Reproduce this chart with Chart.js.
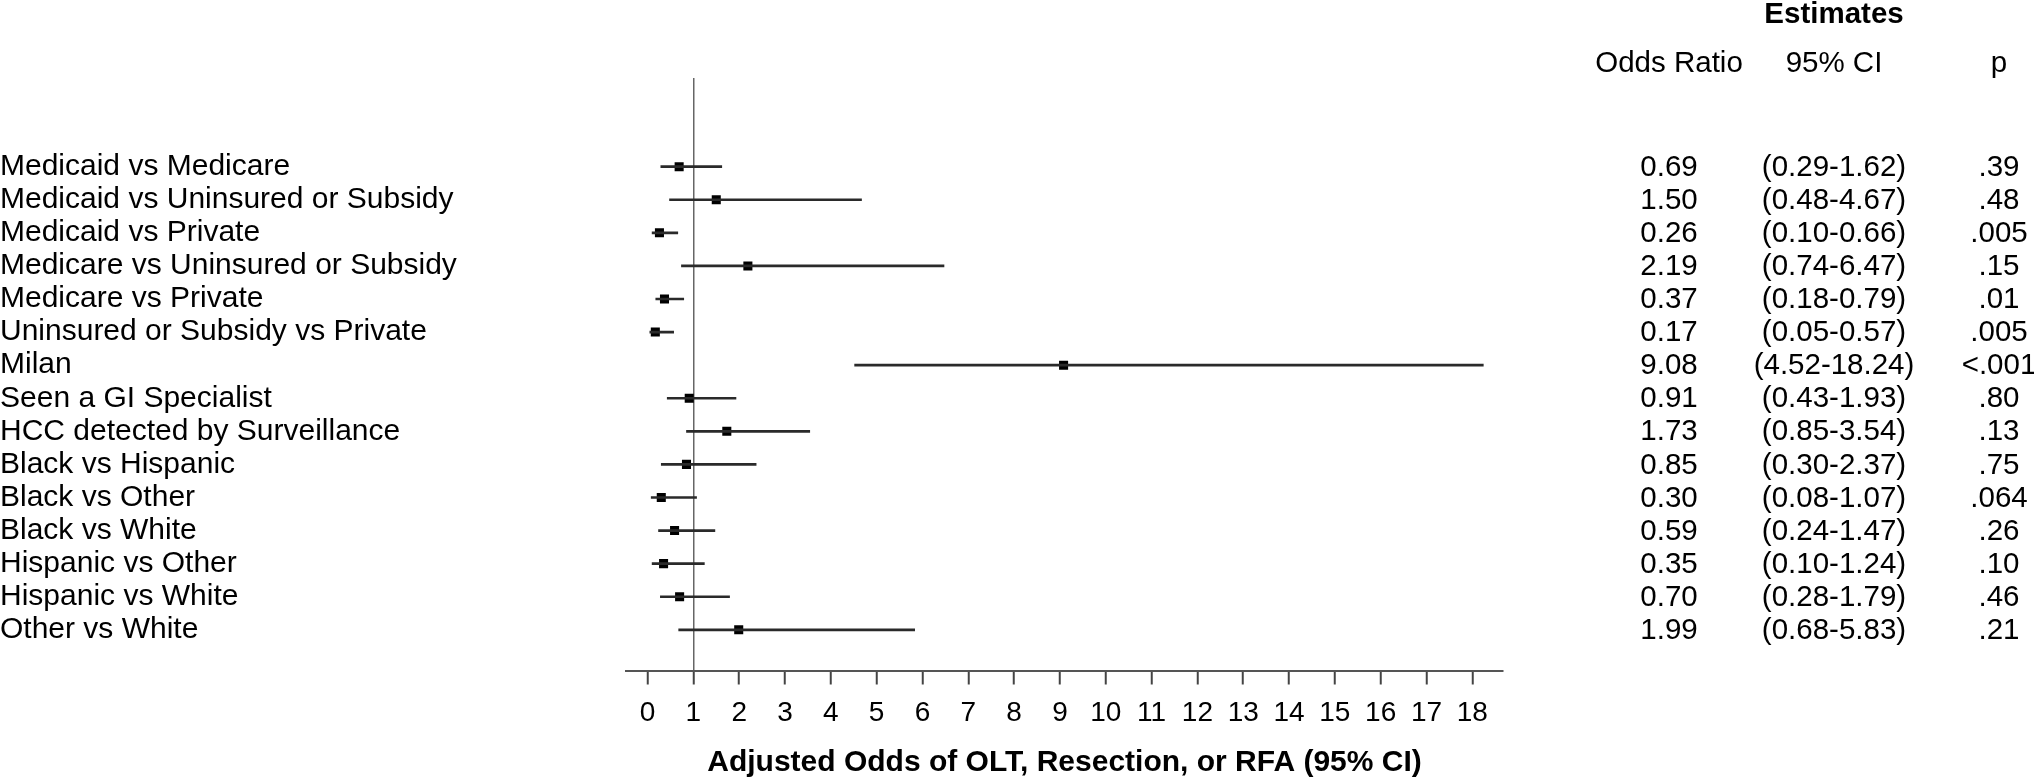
<!DOCTYPE html>
<html>
<head>
<meta charset="utf-8">
<script src="https://cdn.jsdelivr.net/npm/chart.js@4/dist/chart.umd.min.js"></script>
<style>
  html, body { margin: 0; padding: 0; background: #fff; }
  canvas { display: block; }
</style>
</head>
<body>
<canvas id="forest" width="2034" height="781"></canvas>
<script>
// Datos del gráfico
const categories = [
    "Medicaid vs Medicare",
    "Medicaid vs Uninsured or Subsidy",
    "Medicaid vs Private",
    "Medicare vs Uninsured or Subsidy",
    "Medicare vs Private",
    "Uninsured or Subsidy vs Private",
    "Milan",
    "Seen a GI Specialist",
    "HCC detected by Surveillance",
    "Black vs Hispanic",
    "Black vs Other",
    "Black vs White",
    "Hispanic vs Other",
    "Hispanic vs White",
    "Other vs White"
];
const oddsRatio = [0.69, 1.50, 0.26, 2.19, 0.37, 0.17, 9.08, 0.91, 1.73, 0.85, 0.30, 0.59, 0.35, 0.70, 1.99];
const ciLow = [0.29, 0.48, 0.10, 0.74, 0.18, 0.05, 4.52, 0.43, 0.85, 0.30, 0.08, 0.24, 0.10, 0.28, 0.68];
const ciHigh = [1.62, 4.67, 0.66, 6.47, 0.79, 0.57, 18.24, 1.93, 3.54, 2.37, 1.07, 1.47, 1.24, 1.79, 5.83];
const pValues = [".39", ".48", ".005", ".15", ".01", ".005", "<.001", ".80", ".13", ".75", ".064", ".26", ".10", ".46", ".21"];
const xTicks = [0, 1, 2, 3, 4, 5, 6, 7, 8, 9, 10, 11, 12, 13, 14, 15, 16, 17, 18];

const FONT = '"Liberation Sans", Arial, sans-serif';

// Tabla de estimaciones a la derecha
const tablaPlugin = {
    id: "tabla",
    afterDraw(chart) {
        const ctx = chart.ctx;
        const yScale = chart.scales.y;
        ctx.save();
        ctx.fillStyle = "#000";
        ctx.textAlign = "center";
        ctx.textBaseline = "middle";

        ctx.font = "bold 29.5px " + FONT;
        ctx.fillText("Estimates", 1834, 15);

        ctx.font = "29.5px " + FONT;
        ctx.fillText("Odds Ratio", 1669, 64);
        ctx.fillText("95% CI", 1834, 64);
        ctx.fillText("p", 1999, 64);

        categories.forEach((c, i) => {
            const y = yScale.getPixelForValue(i) + 1;
            ctx.fillText(oddsRatio[i].toFixed(2), 1669, y);
            ctx.fillText(`(${ciLow[i].toFixed(2)}-${ciHigh[i].toFixed(2)})`, 1834, y);
            ctx.fillText(pValues[i], 1999, y);
        });
        ctx.restore();
    }
};

const ctx = document.getElementById("forest").getContext("2d");
new Chart(ctx, {
    data: {
        datasets: [
            {
                type: "bar",
                indexAxis: "y",
                data: categories.map((c, i) => ({ y: i, x: [ciLow[i], ciHigh[i]] })),
                backgroundColor: "#2a2a2a",
                borderWidth: 0,
                barThickness: 2
            },
            {
                type: "scatter",
                data: categories.map((c, i) => ({ x: oddsRatio[i], y: i })),
                pointStyle: "rect",
                pointRadius: 6.4,
                pointHoverRadius: 6.4,
                backgroundColor: "#000",
                borderWidth: 0
            }
        ]
    },
    options: {
        responsive: false,
        animation: false,
        layout: { padding: { left: 0, right: 531, top: 78, bottom: 0 } },
        plugins: {
            legend: { display: false },
            tooltip: { enabled: false }
        },
        scales: {
            x: {
                type: "linear",
                offset: false,
                min: -0.47,
                max: 18.67,
                afterBuildTicks: s => { s.ticks = xTicks.map(v => ({ value: v })); },
                afterFit: s => { s.height = 110.5; },
                border: { color: "#555", width: 2 },
                grid: {
                    offset: false,
                    drawOnChartArea: true,
                    color: c => (c.tick && c.tick.value === 1) ? "#666" : "rgba(0,0,0,0)",
                    lineWidth: 1.5,
                    tickColor: "#444",
                    tickLength: 14,
                    tickWidth: 2
                },
                ticks: {
                    autoSkip: false,
                    maxRotation: 0,
                    color: "#000",
                    font: { family: FONT, size: 28 },
                    padding: 12
                },
                title: {
                    display: true,
                    text: "Adjusted Odds of OLT, Resection, or RFA (95% CI)",
                    color: "#000",
                    font: { family: FONT, size: 30, weight: "bold" },
                    padding: 0
                }
            },
            y: {
                type: "linear",
                reverse: true,
                offset: false,
                min: -2.68,
                max: 15.23,
                afterBuildTicks: s => { s.ticks = categories.map((c, i) => ({ value: i })); },
                afterFit: s => { s.width = 626; },
                grid: { display: false, offset: false },
                border: { display: false },
                ticks: {
                    autoSkip: false,
                    crossAlign: "far",
                    padding: 0,
                    color: "#000",
                    font: { family: FONT, size: 30 },
                    callback: v => categories[v]
                }
            }
        }
    },
    plugins: [tablaPlugin]
});
</script>
</body>
</html>
